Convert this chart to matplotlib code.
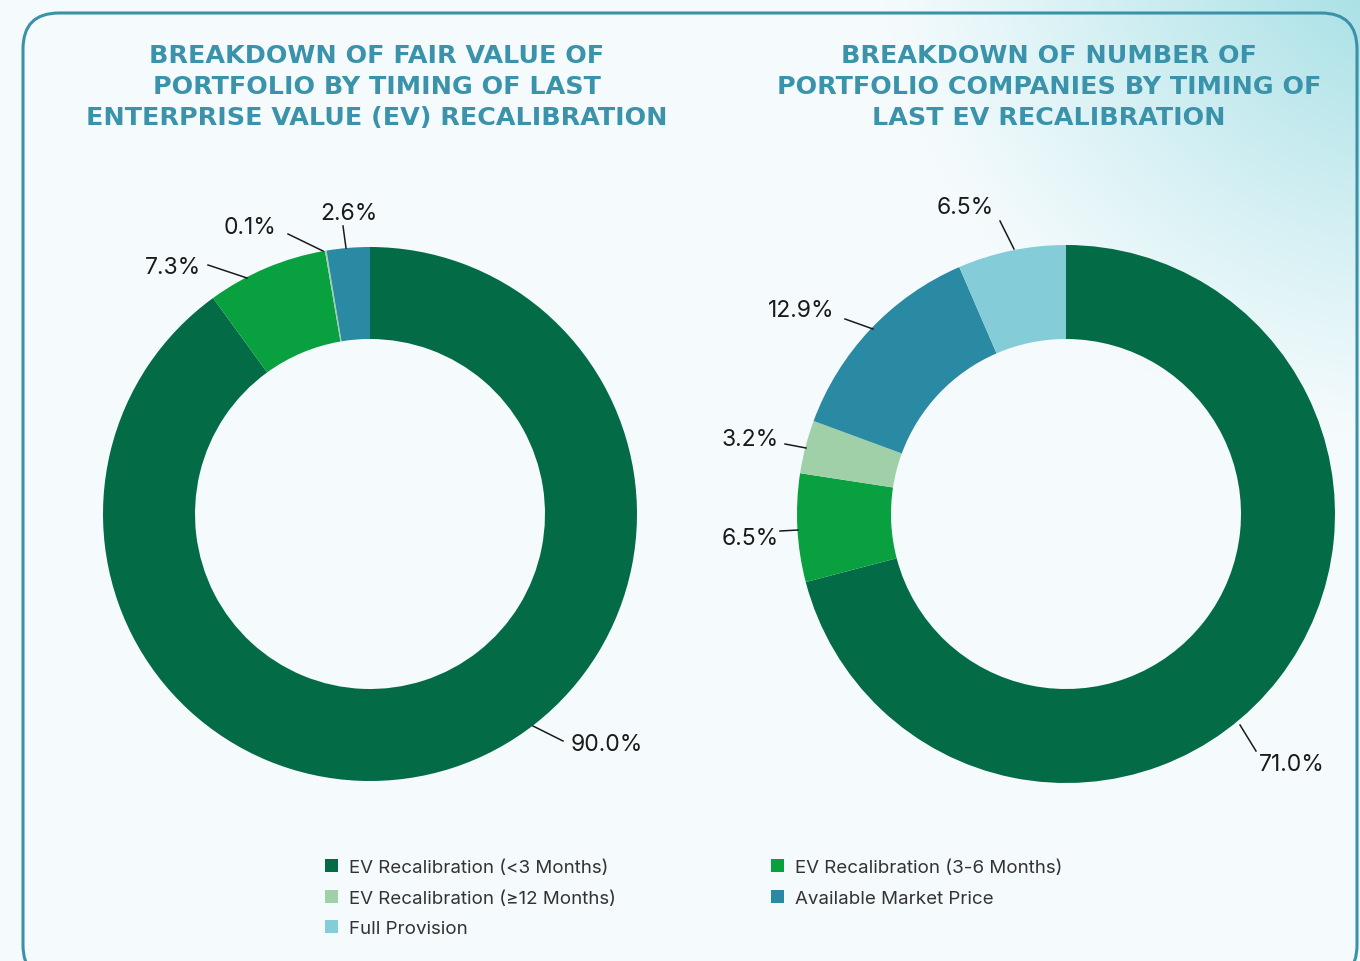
import numpy as np
import matplotlib.pyplot as plt
from matplotlib.patches import FancyBboxPatch

# Categories and colours
categories = ["EV Recalibration (<3 Months)", "EV Recalibration (3-6 Months)",
              "EV Recalibration (\u226512 Months)", "Available Market Price",
              "Full Provision"]
colors = ["#036b46", "#09a03f", "#a0d0a8", "#2b8aa3", "#84cdd8"]

# Left: fair value share (%), right: number of companies share (%)
fair_value = [90.0, 7.3, 0.1, 2.6, 0.0]
companies = [71.0, 6.5, 3.2, 12.9, 6.5]

left_title = "BREAKDOWN OF FAIR VALUE OF\nPORTFOLIO BY TIMING OF LAST\nENTERPRISE VALUE (EV) RECALIBRATION"
right_title = "BREAKDOWN OF NUMBER OF\nPORTFOLIO COMPANIES BY TIMING OF\nLAST EV RECALIBRATION"

W, H = 1360, 962
fig = plt.figure(figsize=(W / 100, H / 100), dpi=100)

# background gradient (teal glow in the top right corner)
bg = fig.add_axes([0, 0, 1, 1], zorder=0)
xx, yy = np.meshgrid(np.arange(W), np.arange(H))
d = np.sqrt(((xx - W - 60) / 540.0) ** 2 + ((yy + 60) / 500.0) ** 2)
w = np.clip(1 - d, 0, 1) ** 1.1
base = np.array([245, 251, 253]) / 255
teal = np.array([155, 220, 226]) / 255
img = base[None, None, :] * (1 - w[..., None]) + teal[None, None, :] * w[..., None]
bg.imshow(img, extent=[0, W, H, 0], aspect="auto")
bg.set_xlim(0, W)
bg.set_ylim(H, 0)
bg.axis("off")

ax = fig.add_axes([0, 0, 1, 1], zorder=1)
ax.patch.set_alpha(0)

# rounded frame
frame = FancyBboxPatch((23, -20), 1334, H - 14 + 20, boxstyle="round,pad=0,rounding_size=36",
                       fill=False, edgecolor="#3b92a8", linewidth=2.2)
ax.add_patch(frame)


def donut(values, cx, cy, r, width):
    wedges, _ = ax.pie(values, colors=colors, startangle=90, counterclock=False,
                       center=(cx, H - cy), radius=r,
                       wedgeprops=dict(width=width, linewidth=0))
    return wedges


left_w = donut(fair_value, 370, 515, 267, 92)
right_w = donut(companies, 1066, 515, 269, 94)

# percentage labels: (text x, text y, line start x, y, line end x, y) in pixels
left_labels = [(607, 745, 563, 742, 533, 727),
               (173, 268, 208, 266, 247, 279),
               (250, 228, 288, 235, 323, 252),
               (349, 214, 343, 227, 346, 249)]
right_labels = [(1292, 765, 1256, 752, 1240, 726),
                (750, 539, 780, 532, 798, 531),
                (750, 440, 785, 445, 806, 449),
                (801, 311, 845, 320, 873, 330),
                (965, 208, 1000, 222, 1014, 250)]

for vals, pos in [(fair_value, left_labels), (companies, right_labels)]:
    nz = [v for v in vals if v > 0]
    for v, (tx, ty, x0, y0, x1, y1) in zip(nz, pos):
        ax.text(tx, H - ty, f"{v:.1f}%", ha="center", va="center",
                fontsize=16.5, color="#1a1a1a", family="Inter")
        ax.plot([x0, x1], [H - y0, H - y1], color="#1a1a1a", lw=1.1)

ax.text(377, H - 87, left_title, ha="center", va="center", fontsize=18.3,
        color="#3a93aa", fontweight="bold", family="DejaVu Sans", linespacing=1.36)
ax.text(1049, H - 87, right_title, ha="center", va="center", fontsize=18.3,
        color="#3a93aa", fontweight="bold", family="DejaVu Sans", linespacing=1.36)

ax.set_xlim(0, W)
ax.set_ylim(0, H)
ax.set_aspect("auto")
ax.axis("off")

order = [0, 2, 4, 1, 3]
leg = fig.legend([right_w[i] for i in order], [categories[i] for i in order],
                 ncol=2, loc="upper left", bbox_to_anchor=(308 / W, 1 - 843 / H),
                 frameon=False, handlelength=0.7, handleheight=0.7,
                 handletextpad=0.6, columnspacing=8.25, labelspacing=0.72,
                 prop={"family": "Inter", "size": 13.5})
for t in leg.get_texts():
    t.set_color("#333333")

fig.savefig("out.png", dpi=100)
